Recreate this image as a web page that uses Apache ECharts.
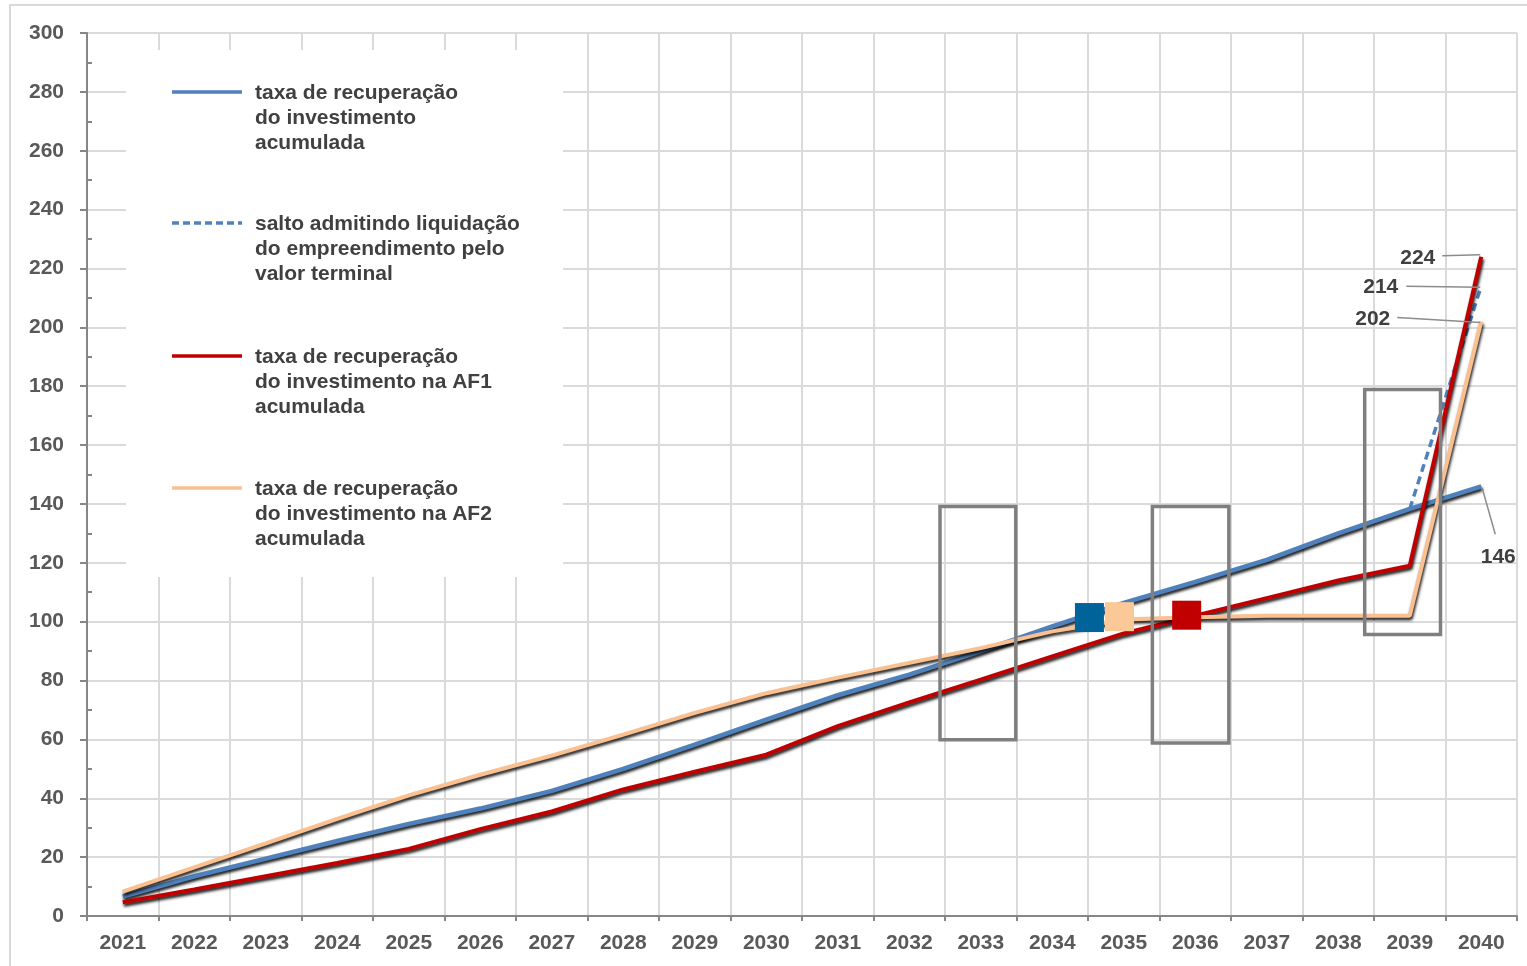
<!DOCTYPE html>
<html>
<head>
<meta charset="utf-8">
<script src="https://cdn.jsdelivr.net/npm/echarts@6/dist/echarts.min.js"></script>
<style>
  html, body { margin: 0; padding: 0; background: #ffffff; }
  #chart { width: 1527px; height: 966px; }
</style>
</head>
<body>
<div id="chart"></div>
<script>
// Anos do horizonte de análise
const anos = ['2021','2022','2023','2024','2025','2026','2027','2028','2029','2030',
              '2031','2032','2033','2034','2035','2036','2037','2038','2039','2040'];

// Taxa de recuperação do investimento acumulada (%)
const recuperacao = [6.6, 13.5, 19.5, 25.5, 31.3, 36.5, 42.5, 50, 58.2, 66.7,
                     75, 82, 90, 98.4, 106.4, 113.5, 121, 130, 138.3, 146];

// Taxa de recuperação do investimento na AF1 acumulada (%)
const recuperacaoAF1 = [4.7, 9, 13.5, 18, 22.8, 29.5, 35.5, 43, 49, 54.8,
                        64.5, 72.6, 80.3, 88.2, 96, 102, 108, 114, 119, 224];

// Taxa de recuperação do investimento na AF2 acumulada (%)
const recuperacaoAF2 = [8.3, 16.5, 24.7, 33, 41, 48, 54.5, 61.6, 69, 75.7,
                        81, 86, 91, 96.7, 100.7, 101.5, 102, 102, 102, 202];

// Valor final com liquidação do empreendimento pelo valor terminal (%)
const valorTerminal = 214;

// Pontos de recuperação integral (ano fracionário, %)
const pontosRecuperacao = [
  [2034.52, 101.4],
  [2034.94, 101.7],
  [2035.88, 102.2]
];

// Períodos destacados: [ano inicial, ano final, % mínimo, % máximo]
const destaques = [
  [2032.43, 2033.49, 59.9, 139.1],
  [2035.40, 2036.47, 58.8, 139.1],
  [2038.37, 2039.43, 95.6, 178.9]
];

// Textos da legenda
const legendas = [
  'taxa de recuperação\ndo investimento\nacumulada',
  'salto admitindo liquidação\ndo empreendimento pelo\nvalor terminal',
  'taxa de recuperação\ndo investimento na AF1\nacumulada',
  'taxa de recuperação\ndo investimento na AF2\nacumulada'
];

// Escala vertical
const yMin = 0, yMax = 300, yPasso = 20;

const FONT = '"Liberation Sans", Arial, sans-serif';
const AZUL = '#4f81bd', VERMELHO = '#c00000', LARANJA = '#fac090';
const EIXO = '#868686', GRADE = '#dadada', TEXTO = '#595959';

const sombra = {
  shadowColor: 'rgba(0,0,0,0.9)',
  shadowBlur: 3,
  shadowOffsetX: 1,
  shadowOffsetY: 2.5
};

// Segmento tracejado: do último ano acumulado até o valor terminal
const ultimo = anos.length - 1;
const salto = anos.map((_, i) => i === ultimo - 1 ? recuperacao[i] : (i === ultimo ? valorTerminal : null));

const coresPontos = ['#00639a', '#fbc897', '#c00000'];

// Rótulos finais com linha de chamada (deslocamentos em pixels a partir do ponto)
const rotulosFinais = [
  { valor: recuperacaoAF1[ultimo], texto: [-46, 2, 'right'], linha: [-39, -1, -1, -2] },
  { valor: valorTerminal,          texto: [-83, 1, 'right'], linha: [-75, 0, -1, 1] },
  { valor: recuperacaoAF2[ultimo], texto: [-91, -2, 'right'], linha: [-84, -4, -1, 1] },
  { valor: recuperacao[ultimo],    texto: [17, 71, 'center'], linha: [1, 2, 14, 48] }
];

const chart = echarts.init(document.getElementById('chart'), null, { renderer: 'canvas' });

const eixoLabel = { color: TEXTO, fontSize: 21, fontWeight: 'bold', fontFamily: FONT };

// Legenda desenhada à mão, sobre um fundo branco que encobre a grade
const legendaY = [93, 224, 357, 489];
const legendaEstilo = [
  { stroke: AZUL, lineWidth: 3.5 },
  { stroke: AZUL, lineWidth: 3.5, lineDash: [7, 4] },
  { stroke: VERMELHO, lineWidth: 3.5 },
  { stroke: LARANJA, lineWidth: 3.5 }
];
const graficos = [
  {
    type: 'rect', silent: true, z: 0,
    shape: { x: 10, y: 5, width: 1560, height: 1000 },
    style: { fill: 'none', stroke: '#d9d9d9', lineWidth: 2 }
  },
  {
    type: 'rect', silent: true, z: 1,
    shape: { x: 126, y: 50, width: 437, height: 527 },
    style: { fill: '#ffffff' }
  }
];
legendas.forEach((txt, i) => {
  graficos.push({
    type: 'line', silent: true, z: 3,
    shape: { x1: 172, y1: legendaY[i] - 1, x2: 242, y2: legendaY[i] - 1 },
    style: legendaEstilo[i]
  });
  graficos.push({
    type: 'text', silent: true, z: 3,
    x: 255, y: legendaY[i] - 12,
    style: {
      text: txt, fill: '#404040', fontSize: 21, fontWeight: 'bold',
      fontFamily: FONT, lineHeight: 25, align: 'left', verticalAlign: 'top'
    }
  });
});

const option = {
  backgroundColor: '#ffffff',
  animation: false,
  grid: { left: 87, right: 10, top: 33, bottom: 50, containLabel: false, outerBoundsMode: 'none' },
  xAxis: [
    {
      type: 'category',
      data: anos,
      boundaryGap: true,
      axisLine: { onZero: false, lineStyle: { color: EIXO, width: 2 } },
      axisTick: { show: true, length: 5, lineStyle: { color: EIXO, width: 2 } },
      axisLabel: Object.assign({ margin: 17, interval: 0 }, eixoLabel),
      splitLine: { show: true, lineStyle: { color: GRADE, width: 2 } }
    },
    {
      type: 'value', min: 2020.5, max: 2040.5, show: false
    }
  ],
  yAxis: [
    {
      type: 'value', min: yMin, max: yMax, interval: yPasso,
      axisLine: { show: true, onZero: false, lineStyle: { color: EIXO, width: 2 } },
      axisTick: { show: true, length: 7, lineStyle: { color: EIXO, width: 2 } },
      axisLabel: Object.assign({ margin: 23 }, eixoLabel),
      splitLine: { show: true, lineStyle: { color: GRADE, width: 2 } }
    },
    {
      type: 'value', min: yMin, max: yMax, interval: yPasso, position: 'left',
      axisLine: { show: false, onZero: false },
      axisTick: { show: false, inside: true },
      axisLabel: { show: false },
      splitLine: { show: false },
      minorTick: { show: true, splitNumber: 2, length: 5, lineStyle: { color: EIXO, width: 2 } }
    }
  ],
  graphic: graficos,
  series: [
    {
      name: 'taxa de recuperação do investimento acumulada',
      type: 'line', data: recuperacao, xAxisIndex: 0, yAxisIndex: 0,
      symbol: 'none', z: 2,
      lineStyle: Object.assign({ color: AZUL, width: 4.5 }, sombra)
    },
    {
      name: 'salto admitindo liquidação do empreendimento pelo valor terminal',
      type: 'line', data: salto, xAxisIndex: 0, yAxisIndex: 0,
      symbol: 'none', z: 2, connectNulls: false,
      lineStyle: { color: AZUL, width: 3.5, type: [8, 5] }
    },
    {
      name: 'taxa de recuperação do investimento na AF1 acumulada',
      type: 'line', data: recuperacaoAF1, xAxisIndex: 0, yAxisIndex: 0,
      symbol: 'none', z: 3,
      lineStyle: Object.assign({ color: VERMELHO, width: 4 }, sombra)
    },
    {
      name: 'taxa de recuperação do investimento na AF2 acumulada',
      type: 'line', data: recuperacaoAF2, xAxisIndex: 0, yAxisIndex: 0,
      symbol: 'none', z: 3,
      lineStyle: Object.assign({ color: LARANJA, width: 4 }, sombra)
    },
    {
      // Retângulos de destaque
      type: 'custom', xAxisIndex: 1, yAxisIndex: 0, z: 4, silent: true,
      data: destaques,
      encode: { x: [0, 1], y: [2, 3] },
      renderItem: function (params, api) {
        const a = api.coord([api.value(0), api.value(3)]);
        const b = api.coord([api.value(1), api.value(2)]);
        return {
          type: 'rect',
          shape: { x: a[0], y: a[1], width: b[0] - a[0], height: b[1] - a[1] },
          style: { fill: 'none', stroke: '#7f7f7f', lineWidth: 3.5 }
        };
      }
    },
    {
      // Pontos de recuperação integral
      type: 'scatter', xAxisIndex: 1, yAxisIndex: 0, z: 5, silent: true,
      symbol: 'rect', symbolSize: 29,
      itemStyle: { opacity: 1 },
      data: pontosRecuperacao.map((p, i) => ({ value: p, itemStyle: { color: coresPontos[i], opacity: 1 } }))
    },
    {
      // Rótulos dos valores finais
      type: 'custom', xAxisIndex: 1, yAxisIndex: 0, z: 6, silent: true, clip: false,
      data: rotulosFinais.map(r => [2040, r.valor]),
      renderItem: function (params, api) {
        const r = rotulosFinais[params.dataIndex];
        const p = api.coord([api.value(0), api.value(1)]);
        return {
          type: 'group',
          children: [
            {
              type: 'line',
              shape: { x1: p[0] + r.linha[0], y1: p[1] + r.linha[1], x2: p[0] + r.linha[2], y2: p[1] + r.linha[3] },
              style: { stroke: '#8c8c8c', lineWidth: 1.5 }
            },
            {
              type: 'text',
              x: p[0] + r.texto[0], y: p[1] + r.texto[1],
              style: {
                text: String(api.value(1)), fill: '#404040', fontSize: 21, fontWeight: 'bold',
                fontFamily: FONT, align: r.texto[2], verticalAlign: 'middle'
              }
            }
          ]
        };
      }
    }
  ]
};

chart.setOption(option);
</script>
</body>
</html>
